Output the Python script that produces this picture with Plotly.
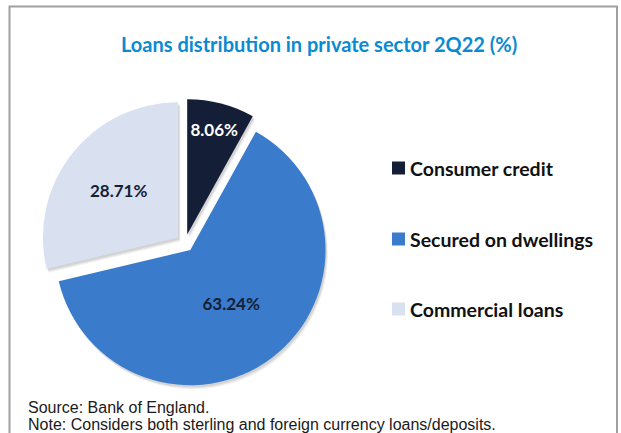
import plotly.graph_objects as go

# Loan categories and their shares of private-sector lending (%)
categories = ["Consumer credit", "Secured on dwellings", "Commercial loans"]
shares = [8.06, 63.24, 28.71]
colors = ["#141E36", "#3A7BCB", "#D9E1F1"]
label_colors = ["#FFFFFF", "#141E36", "#141E36"]

title_text = "Loans distribution in private sector 2Q22 (%)"
source_lines = [
    "Source: Bank of England.",
    "Note: Considers both sterling and foreign currency loans/deposits.",
]

W, H = 621, 433
pie_box = (41, 329, 99, 387)  # left, right, top, bottom in px
pull = [0.065, 0.065, 0.065]


def pie_domain(dx=0.0, dy=0.0):
    x0, x1, y0, y1 = pie_box
    return dict(x=[(x0 + dx) / W, (x1 + dx) / W],
                y=[1 - (y1 + dy) / H, 1 - (y0 + dy) / H])


fig = go.Figure()

# soft drop shadow: a few faint offset copies of the pie
for off, alpha in [(4, 0.05), (3, 0.06), (2, 0.07)]:
    fig.add_trace(go.Pie(
        labels=categories, values=shares, sort=False, direction="clockwise",
        rotation=0, pull=pull,
        marker=dict(colors=[f"rgba(0,0,0,{alpha})"] * len(shares), line=dict(width=0)),
        textinfo="none", hoverinfo="skip", showlegend=False,
        domain=pie_domain(off * 0.6, off),
    ))

fig.add_trace(go.Pie(
    labels=categories,
    values=shares,
    sort=False,
    direction="clockwise",
    rotation=0,
    pull=pull,
    marker=dict(colors=colors, line=dict(width=0)),
    texttemplate="%{value:.2f}%",
    textposition="inside",
    insidetextorientation="horizontal",
    textfont=dict(family="Lato", size=17, color=label_colors, weight="bold"),
    showlegend=False,
    hoverinfo="label+value",
    domain=pie_domain(),
))

shapes = [
    # outer frame
    dict(type="rect", xref="paper", yref="paper",
         x0=9.5 / W, x1=617 / W, y0=-0.05, y1=1 - 6.5 / H,
         line=dict(color="#A0A0A0", width=2), fillcolor="rgba(0,0,0,0)"),
]
annotations = [
    dict(text=f"<b>{title_text}</b>", xref="paper", yref="paper",
         x=319 / W, y=1 - 44 / H, xanchor="center", yanchor="middle",
         showarrow=False,
         font=dict(family="Lato", size=20, color="#0A8AD2")),
]

# legend: colour swatch plus bold label for each category
legend_y = [168, 239, 309]
for cat, col, ly in zip(categories, colors, legend_y):
    shapes.append(dict(type="rect", xref="paper", yref="paper",
                       x0=392 / W, x1=405 / W,
                       y0=1 - (ly + 6.5) / H, y1=1 - (ly - 6.5) / H,
                       line=dict(width=0), fillcolor=col))
    annotations.append(dict(text=f"<b>{cat}</b>", xref="paper", yref="paper",
                            x=408 / W, y=1 - ly / H, xanchor="left", yanchor="middle",
                            showarrow=False,
                            font=dict(family="Lato", size=19.5, color="#111111")))

for i, line in enumerate(source_lines):
    annotations.append(dict(text=line, xref="paper", yref="paper",
                            x=26 / W, y=1 - (407 + 17 * i) / H,
                            xanchor="left", yanchor="middle", showarrow=False,
                            font=dict(family="Liberation Sans", size=16, color="#1A1A1A")))

fig.update_layout(
    width=W, height=H,
    margin=dict(l=0, r=0, t=0, b=0),
    paper_bgcolor="white",
    plot_bgcolor="white",
    shapes=shapes,
    annotations=annotations,
)

fig.write_html("out.html")
